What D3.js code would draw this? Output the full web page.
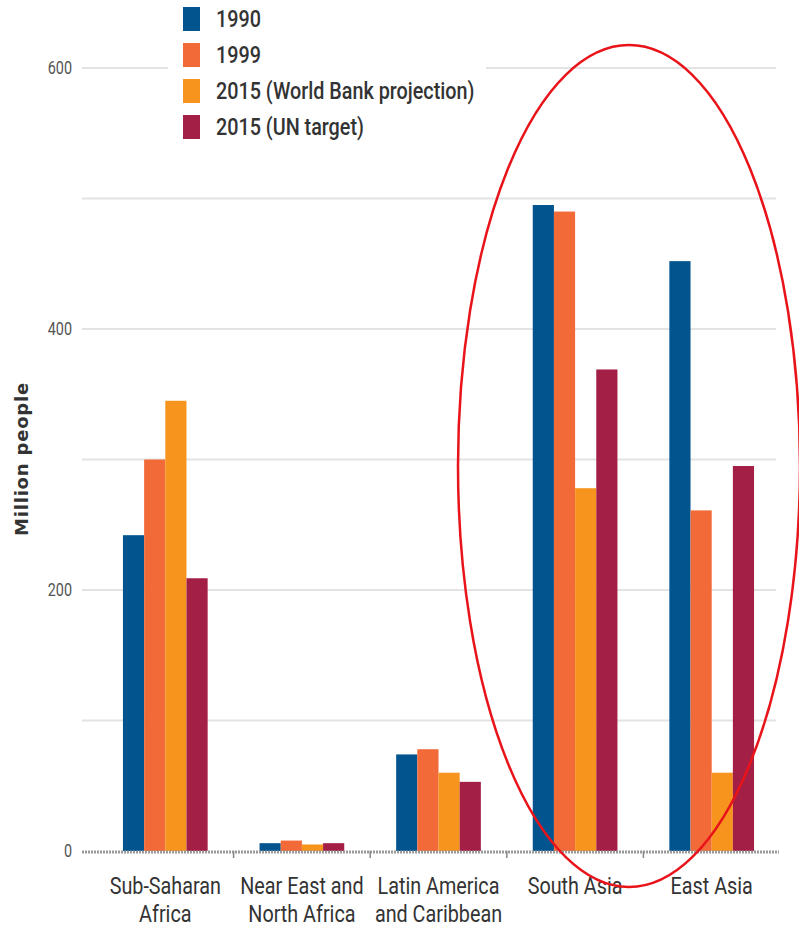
<!DOCTYPE html>
<html>
<head>
<meta charset="utf-8">
<script src="https://cdn.jsdelivr.net/npm/d3@7"></script>
<style>
  body { margin: 0; background: #fff; }
  svg { display: block; }
</style>
</head>
<body>
<div id="chart"></div>
<script>
var regions = ["Sub-Saharan Africa", "Near East and North Africa", "Latin America and Caribbean", "South Asia", "East Asia"];
var regionLines = [["Sub-Saharan", "Africa"], ["Near East and", "North Africa"], ["Latin America", "and Caribbean"], ["South Asia"], ["East Asia"]];
var seriesNames = ["1990", "1999", "2015 (World Bank projection)", "2015 (UN target)"];
var seriesColors = ["#02548f", "#f26a38", "#f7941e", "#a41f45"];

// million people
var v1990 = [242, 6, 74, 495, 452];
var v1999 = [300, 8, 78, 490, 261];
var vWB = [345, 5, 60, 278, 60];
var vUN = [209, 6, 53, 369, 295];
var allSeries = [v1990, v1999, vWB, vUN];

var yTicks = [0, 200, 400, 600];
var yGrid = [100, 200, 300, 400, 500, 600];

var width = 799, height = 930;
var fontNarrow = "Roboto, 'Liberation Sans', sans-serif";

var svg = d3.select("#chart").append("svg")
    .attr("width", width)
    .attr("height", height);

var x0 = d3.scaleBand()
    .domain(regions)
    .range([97, 780])
    .paddingInner(0.38)
    .paddingOuter(0.19);
var x1 = d3.scaleBand()
    .domain(d3.range(seriesNames.length))
    .range([0, x0.bandwidth()]);
var y = d3.scaleLinear()
    .domain([0, 600])
    .range([851, 68]);

// gridlines
svg.append("g").selectAll("line")
    .data(yGrid)
    .join("line")
    .attr("x1", 82).attr("x2", 776)
    .attr("y1", d => y(d)).attr("y2", d => y(d))
    .attr("stroke", "#e3e3e3")
    .attr("stroke-width", 2);

// y tick labels (squeezed to look condensed)
svg.append("g").selectAll("text")
    .data(yTicks)
    .join("text")
    .attr("transform", d => "translate(72," + (y(d) + 6) + ") scale(0.8,1)")
    .attr("text-anchor", "end")
    .attr("font-family", fontNarrow)
    .attr("font-size", 18)
    .attr("fill", "#555")
    .text(d => d);

// y title
svg.append("text")
    .attr("transform", "translate(28,459) rotate(-90)")
    .attr("text-anchor", "middle")
    .attr("font-family", "'DejaVu Sans', sans-serif")
    .attr("font-weight", "bold")
    .attr("font-size", 18)
    .attr("letter-spacing", 0.8)
    .attr("fill", "#333")
    .text("Million people");

// bars
var groups = svg.append("g").selectAll("g")
    .data(regions)
    .join("g")
    .attr("transform", d => "translate(" + x0(d) + ",0)");

groups.selectAll("rect")
    .data((d, i) => allSeries.map((s, k) => ({k: k, v: s[i]})))
    .join("rect")
    .attr("x", d => x1(d.k))
    .attr("y", d => y(d.v))
    .attr("width", x1.bandwidth())
    .attr("height", d => y(0) - y(d.v))
    .attr("fill", d => seriesColors[d.k]);

// baseline
svg.append("line")
    .attr("x1", 82).attr("x2", 779)
    .attr("y1", y(0) + 1).attr("y2", y(0) + 1)
    .attr("stroke", "#9a9a9a")
    .attr("stroke-width", 3)
    .attr("stroke-dasharray", "2,1");

// ticks between categories
var bounds = regions.slice(1).map(r => x0(r) - x0.step() * x0.paddingInner() / 2);
svg.append("g").selectAll("line")
    .data(bounds)
    .join("line")
    .attr("x1", d => d).attr("x2", d => d)
    .attr("y1", y(0)).attr("y2", y(0) + 7)
    .attr("stroke", "#888")
    .attr("stroke-width", 1.5);

// category labels
var labels = svg.append("g").selectAll("text")
    .data(regions)
    .join("text")
    .attr("transform", d => "translate(" + (x0(d) + x0.bandwidth() / 2) + ",894) scale(0.86,1)")
    .attr("text-anchor", "middle")
    .attr("font-family", fontNarrow)
    .attr("font-size", 23)
    .attr("fill", "#333");
labels.each(function(d, i) {
    d3.select(this).selectAll("tspan")
        .data(regionLines[i])
        .join("tspan")
        .attr("x", 0)
        .attr("dy", (t, j) => j === 0 ? 0 : 28)
        .text(t => t);
});

// legend with white background
var legend = svg.append("g");
legend.append("rect")
    .attr("x", 168).attr("y", 0)
    .attr("width", 318).attr("height", 146)
    .attr("fill", "#fff");
var items = legend.selectAll("g")
    .data(seriesNames)
    .join("g")
    .attr("transform", (d, i) => "translate(183," + (7 + i * 36) + ")");
items.append("rect")
    .attr("width", 17).attr("height", 24)
    .attr("fill", (d, i) => seriesColors[i]);
items.append("text")
    .attr("transform", "translate(33,20) scale(0.86,1)")
    .attr("font-family", fontNarrow)
    .attr("font-weight", 500)
    .attr("font-size", 23)
    .attr("fill", "#333")
    .text(d => d);

// red highlight ellipse
svg.append("ellipse")
    .attr("cx", 629).attr("cy", 466)
    .attr("rx", 171).attr("ry", 421)
    .attr("fill", "none")
    .attr("stroke", "#e8141a")
    .attr("stroke-width", 2.5);
</script>
</body>
</html>
